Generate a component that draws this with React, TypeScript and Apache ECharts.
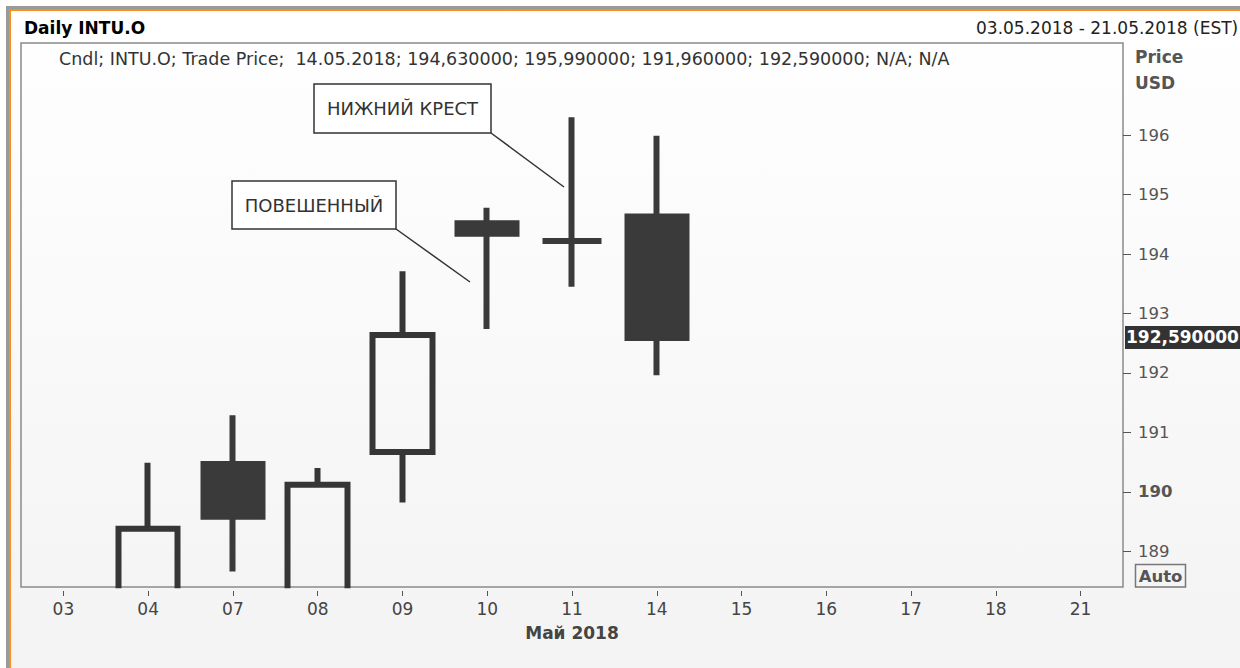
import React, { useEffect, useRef } from "react";
import * as echarts from "echarts";

const FONT = "'DejaVu Sans', Verdana, sans-serif";

const categories = ["03", "04", "07", "08", "09", "10", "11", "14", "15", "16", "17", "18", "21"];
const openValues = [null, 187.9, 190.47, 188.0, 190.67, 194.52, 194.22, 194.63, null, null, null, null, null];
const closeValues = [null, 189.38, 189.58, 190.12, 192.64, 194.34, 194.22, 192.59, null, null, null, null, null];
const lowValues = [null, 187.7, 188.66, 187.8, 189.82, 192.74, 193.45, 191.96, null, null, null, null, null];
const highValues = [null, 190.49, 191.29, 190.4, 193.71, 194.78, 196.3, 195.99, null, null, null, null, null];
const yTickValues = [189, 190, 191, 192, 193, 194, 195, 196];

const titleText = "Daily INTU.O";
const rangeText = "03.05.2018 - 21.05.2018 (EST)";
const legendText = "Cndl; INTU.O; Trade Price;  14.05.2018; 194,630000; 195,990000; 191,960000; 192,590000; N/A; N/A";
const monthText = "Май 2018";
const lastPriceText = "192,590000";
const lastPrice = 192.59;
const annotations = [
  { text: "НИЖНИЙ КРЕСТ", box: [314, 84, 177, 49], line: [491, 133, 564, 187] },
  { text: "ПОВЕШЕННЫЙ", box: [232, 181, 164, 48], line: [396, 229, 470, 282] },
];

function txt(text: string, x: number, y: number, opts: any = {}) {
  return {
    type: "text",
    z: 100,
    style: {
      text,
      x,
      y,
      font: `${opts.weight || "normal"} ${opts.size || 17}px ${FONT}`,
      fill: opts.color || "#333",
      textAlign: opts.align || "left",
      textVerticalAlign: "middle",
    },
  };
}

function bgGradient() {
  return new echarts.graphic.LinearGradient(
    0,
    9,
    0,
    677,
    [
      { offset: 0, color: "#ffffff" },
      { offset: 1, color: "#f3f3f3" },
    ],
    true
  );
}

export default function App() {
  const ref = useRef<HTMLDivElement>(null);
  useEffect(() => {
    document.body.style.margin = "0";
    document.body.style.overflow = "hidden";
    if (!ref.current) return;
    const chart = echarts.init(ref.current, undefined, { renderer: "svg" });
    const data = categories.map((_, i) =>
      openValues[i] == null ? "-" : [openValues[i], closeValues[i], lowValues[i], highValues[i]]
    );
    chart.setOption({
      animation: false,
      grid: {
        left: 21,
        top: 43,
        width: 1102,
        height: 544,
        show: true,
        borderColor: "#8a8a8a",
        borderWidth: 1.5,
        backgroundColor: "rgba(0,0,0,0)",
        z: 1,
      },
      xAxis: {
        type: "category",
        data: categories,
        boundaryGap: true,
        offset: 4,
        z: 60,
        axisLine: { show: false },
        axisTick: { show: true, alignWithLabel: true, length: 5, lineStyle: { color: "#555", width: 1 } },
        axisLabel: { color: "#444", fontSize: 17, fontFamily: FONT, margin: 9 },
        splitLine: { show: false },
      },
      yAxis: {
        type: "value",
        position: "right",
        scale: true,
        min: 188.4,
        max: 197.55,
        z: 60,
        axisLine: { show: false },
        splitLine: { show: false },
        axisTick: { show: true, length: 8, lineStyle: { color: "#555", width: 1 }, customValues: yTickValues },
        axisLabel: {
          customValues: yTickValues,
          margin: 15,
          color: "#555",
          fontSize: 16.5,
          fontFamily: FONT,
          formatter: (v: number) => (v % 10 === 0 ? `{b|${v}}` : `{n|${v}}`),
          rich: {
            b: { fontWeight: "bold", color: "#555", fontSize: 16.5, fontFamily: FONT },
            n: { color: "#555", fontSize: 16.5, fontFamily: FONT },
          },
        },
      },
      series: [
        {
          type: "candlestick",
          data,
          barWidth: 60,
          clip: true,
          itemStyle: {
            color: "rgba(255,255,255,0)",
            color0: "#3a3a3a",
            borderColor: "#363636",
            borderColor0: "#3a3a3a",
            borderWidth: 6,
          },
        },
      ],
    });

    const yPx = chart.convertToPixel({ yAxisIndex: 0 }, lastPrice) as number;
    const gridCenter = 21 + 1102 / 2;

    const elements: any[] = [
      {
        type: "rect",
        z: -100,
        shape: { x: 9, y: 9, width: 1240, height: 668 },
        style: { fill: bgGradient() },
        silent: true,
      },
      {
        // masks the parts of candles that fall below the plot area
        type: "rect",
        z: 50,
        shape: { x: 11, y: 588.2, width: 1240, height: 90 },
        style: { fill: bgGradient() },
        silent: true,
      },
      {
        type: "rect",
        z: 90,
        shape: { x: 7.5, y: 7.5, width: 1300, height: 700 },
        style: { fill: "none", stroke: "#9a9a9a", lineWidth: 3 },
        silent: true,
      },
      {
        type: "rect",
        z: 91,
        shape: { x: 10, y: 10, width: 1300, height: 700 },
        style: { fill: "none", stroke: "#f7901e", lineWidth: 2 },
        silent: true,
      },
      txt(titleText, 24, 28, { weight: "bold", color: "#000" }),
      txt(rangeText, 976, 28, { color: "#222", size: 17 }),
      txt(legendText, 59, 59, { color: "#333", size: 17.5 }),
      txt("Price", 1135, 57, { weight: "bold", color: "#555" }),
      txt("USD", 1135, 83, { weight: "bold", color: "#555" }),
      txt(monthText, gridCenter, 633, { weight: "bold", color: "#444", align: "center" }),
      {
        type: "rect",
        z: 100,
        shape: { x: 1135.5, y: 564.5, width: 50, height: 22.5 },
        style: { fill: "none", stroke: "#777", lineWidth: 1.5 },
      },
      txt("Auto", 1160.5, 576, { weight: "bold", color: "#555", align: "center", size: 16.5 }),
      {
        type: "rect",
        z: 100,
        shape: { x: 1125, y: yPx - 12, width: 130, height: 23 },
        style: { fill: "#333" },
      },
      txt(lastPriceText, 1126, yPx - 0.5, { weight: "bold", color: "#fff", size: 17 }),
    ];
    annotations.forEach((a) => {
      const [bx, by, bw, bh] = a.box;
      const [x1, y1, x2, y2] = a.line;
      elements.push({
        type: "rect",
        z: 100,
        shape: { x: bx, y: by, width: bw, height: bh },
        style: { fill: "#ffffff", stroke: "#333", lineWidth: 1.5 },
      });
      elements.push(txt(a.text, bx + bw / 2, by + bh / 2, { color: "#333", align: "center", size: 18 }));
      elements.push({
        type: "line",
        z: 100,
        shape: { x1, y1, x2, y2 },
        style: { stroke: "#333", lineWidth: 1.5 },
      });
    });
    chart.setOption({ graphic: { elements } });

    return () => chart.dispose();
  }, []);
  return <div ref={ref} style={{ width: 1240, height: 668 }} />;
}
